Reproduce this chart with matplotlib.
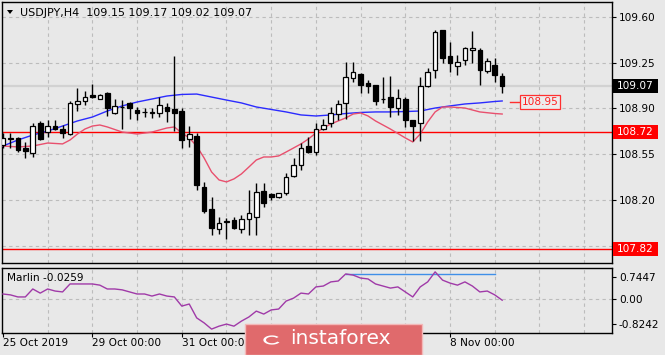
import matplotlib
matplotlib.use("Agg")
import matplotlib.pyplot as plt
import matplotlib.transforms as mtransforms
from matplotlib.patches import Rectangle, Wedge
import numpy as np

# ---------------- data ----------------
opens = [108.62, 108.665, 108.67, 108.60, 108.56, 108.79, 108.72, 108.765, 108.74, 108.705,
         108.935, 108.955, 109.00, 108.975, 109.02, 108.865, 108.91, 108.94, 108.89, 108.87,
         108.865, 108.865, 108.91, 108.895, 108.88, 108.665, 108.69, 108.30, 108.13, 107.98,
         108.03, 108.045, 107.98, 108.05, 108.07, 108.27, 108.245, 108.22, 108.255, 108.385,
         108.47, 108.61, 108.565, 108.745, 108.79, 108.855, 108.94, 109.135, 109.165, 109.095,
         109.08, 108.975, 108.99, 108.90, 108.97, 108.81, 108.79, 109.07, 109.195, 109.50,
         109.30, 109.225, 109.27, 109.35, 109.35, 109.19, 109.235, 109.15]
highs = [108.71, 108.71, 108.68, 108.64, 108.79, 108.80, 108.81, 108.81, 108.77, 108.96,
         109.055, 109.03, 109.085, 109.01, 109.025, 108.97, 108.965, 108.95, 108.91, 108.905,
         108.905, 108.99, 108.94, 109.30, 108.90, 108.765, 108.71, 108.34, 108.22, 108.07,
         108.06, 108.07, 108.085, 108.275, 108.33, 108.33, 108.255, 108.255, 108.405, 108.52,
         108.635, 108.68, 108.79, 108.82, 108.91, 108.965, 109.255, 109.255, 109.17, 109.12,
         109.08, 109.14, 109.15, 109.05, 108.99, 108.81, 109.14, 109.21, 109.50, 109.50,
         109.41, 109.31, 109.37, 109.49, 109.365, 109.285, 109.285, 109.17]
lows = [108.60, 108.60, 108.565, 108.52, 108.53, 108.66, 108.68, 108.735, 108.67, 108.70,
        108.88, 108.925, 108.98, 108.97, 108.84, 108.86, 108.74, 108.82, 108.81, 108.835,
        108.83, 108.835, 108.795, 108.73, 108.60, 108.605, 108.275, 108.10, 107.93, 107.94,
        107.90, 107.975, 107.945, 107.93, 107.93, 108.145, 108.20, 108.215, 108.24, 108.375,
        108.43, 108.56, 108.545, 108.735, 108.76, 108.81, 108.82, 109.10, 109.02, 109.02,
        108.925, 108.94, 108.835, 108.85, 108.76, 108.65, 108.65, 109.065, 109.135, 109.25,
        109.18, 109.155, 109.23, 109.25, 109.08, 109.17, 109.10, 109.02]
closes = [108.67, 108.67, 108.58, 108.575, 108.765, 108.665, 108.765, 108.745, 108.71, 108.94,
          108.96, 108.99, 108.985, 109.00, 108.90, 108.92, 108.912, 108.905, 108.865, 108.875,
          108.87, 108.925, 108.88, 108.865, 108.66, 108.705, 108.315, 108.115, 107.985, 108.025,
          108.035, 107.985, 108.05, 108.10, 108.26, 108.175, 108.225, 108.25, 108.375, 108.47,
          108.60, 108.565, 108.74, 108.77, 108.865, 108.935, 109.14, 109.18, 109.08, 109.075,
          108.955, 108.97, 108.91, 108.98, 108.81, 108.765, 109.07, 109.18, 109.485, 109.285,
          109.25, 109.255, 109.36, 109.365, 109.195, 109.26, 109.155, 109.07]

slow_ma_idx = [0, 2, 4, 6, 8, 10, 12, 14, 16, 18, 20, 22, 24, 26, 28, 30, 32, 34, 36, 38,
               40, 42, 44, 46, 48, 50, 52, 54, 56, 58, 60, 62, 64, 66, 67]
slow_ma = [108.612, 108.658, 108.696, 108.727, 108.765, 108.804, 108.834, 108.880, 108.919,
           108.949, 108.972, 108.995, 109.007, 109.010, 108.987, 108.964, 108.942, 108.911,
           108.892, 108.873, 108.850, 108.842, 108.850, 108.861, 108.869, 108.873, 108.873,
           108.876, 108.880, 108.903, 108.919, 108.934, 108.942, 108.953, 108.957]

fast_ma_idx = [0, 2, 4, 6, 8, 9, 10, 11, 12, 13, 14, 16, 18, 20, 22, 23, 24, 25, 26, 27, 28,
               29, 30, 31, 32, 33, 34, 35, 36, 37, 38, 39, 40, 41, 42, 43, 44, 45, 46, 47, 48,
               49, 50, 52, 54, 55, 56, 57, 58, 59, 60, 62, 64, 66, 67]
fast_ma = [108.612, 108.605, 108.612, 108.635, 108.628, 108.658, 108.704, 108.742, 108.765,
           108.773, 108.758, 108.719, 108.704, 108.719, 108.750, 108.758, 108.712, 108.674,
           108.612, 108.520, 108.413, 108.352, 108.337, 108.360, 108.398, 108.451, 108.505,
           108.528, 108.528, 108.536, 108.566, 108.597, 108.628, 108.666, 108.712, 108.750,
           108.781, 108.804, 108.827, 108.857, 108.865, 108.842, 108.804, 108.742, 108.674,
           108.643, 108.704, 108.796, 108.873, 108.911, 108.911, 108.903, 108.873, 108.861,
           108.857]

marlin = [0.18, 0.15, 0.08, 0.08, 0.35, 0.21, 0.35, 0.28, 0.25, 0.52,
          0.52, 0.52, 0.52, 0.48, 0.35, 0.35, 0.32, 0.25, 0.18, 0.18,
          0.11, 0.18, 0.11, 0.08, -0.23, -0.16, -0.63, -0.80, -1.01, -0.91,
          -0.84, -0.91, -0.74, -0.60, -0.40, -0.50, -0.36, -0.33, -0.06, 0.04,
          0.21, 0.18, 0.42, 0.45, 0.59, 0.62, 0.86, 0.82, 0.72, 0.69,
          0.52, 0.45, 0.38, 0.42, 0.25, 0.08, 0.42, 0.59, 0.93, 0.65,
          0.55, 0.48, 0.59, 0.45, 0.25, 0.28, 0.15, -0.03]
marlin_level = 0.85
marlin_level_span = [46, 66]

levels = [108.72, 107.82]
current_price = 109.07
ma_label_value = 108.95

price_ticks = [109.60, 109.25, 108.90, 108.55, 108.20, 107.85]
marlin_ticks = [0.7447, 0.0, -0.8242]
marlin_tick_labels = ["0.7447", "0.00", "-0.8242"]
time_tick_idx = [0, 12, 24, 60]
time_tick_labels = ["25 Oct 2019", "29 Oct 00:00", "31 Oct 00:00", "8 Nov 00:00"]
title_text = "USDJPY,H4  109.15 109.17 109.02 109.07"
marlin_text = "Marlin -0.0259"

# ---------------- figure ----------------
W, H = 665, 355
BG = "#e8e8e8"
plt.rcParams["font.family"] = ["DejaVu Sans"]
fig = plt.figure(figsize=(W / 100, H / 100), dpi=100, facecolor=BG)

def fx(px):
    return px / W

def fy(py):
    return 1 - py / H

ax = fig.add_axes([fx(2), fy(263), fx(610), (263 - 2) / H])
ax2 = fig.add_axes([fx(2), fy(333), fx(610), (333 - 268) / H], sharex=ax)

for a in (ax, ax2):
    a.set_facecolor(BG)
    for s in a.spines.values():
        s.set_color("black")
        s.set_linewidth(1.0)

n = len(opens)
x = np.arange(n)
ax.set_xlim(-0.13, 81.74)
ax.set_ylim(107.716, 109.715)
ax2.set_ylim(-1.142, 1.061)

# grid
grid_x = np.arange(6, 82, 6)
for a in (ax, ax2):
    for gx in grid_x:
        a.axvline(gx, color="#bcbcbc", lw=0.8, ls=(0, (3, 3)), zorder=0)
for p in price_ticks:
    ax.axhline(p, color="#bcbcbc", lw=0.8, ls=(0, (3, 3)), zorder=0)
ax2.axhline(0.0, color="#bcbcbc", lw=0.8, ls=(0, (3, 3)), zorder=0)

# current price line
ax.axhline(current_price, color="#d2d2d2", lw=1.6, zorder=0.5)

# levels
for lv in levels:
    ax.axhline(lv, color="#ff0000", lw=1.0, zorder=2)

# moving averages
ax.plot(slow_ma_idx, slow_ma, color="#2b2bff", lw=1.0, zorder=3)
ax.plot(fast_ma_idx, fast_ma, color="#e8506e", lw=1.0, zorder=3)

# candles
o = np.array(opens); c = np.array(closes)
ax.vlines(x, lows, highs, color="black", lw=1.0, zorder=4)
bottoms = np.minimum(o, c)
heights = np.maximum(np.abs(c - o), 0.004)
faces = ["white" if cc >= oo else "black" for oo, cc in zip(o, c)]
ax.bar(x, heights, bottom=bottoms, width=0.62, color=faces, edgecolor="black",
       linewidth=0.9, zorder=5)

# MA value label inside chart
last = n - 1
ax.plot([last + 1.0, last + 2.3], [ma_label_value, ma_label_value], color="#ff3030", lw=1.0, zorder=6)
ax.text(last + 2.6, ma_label_value, f"{ma_label_value:.2f}", color="#ff2020", fontsize=7.6,
        va="center", ha="left", zorder=7,
        bbox=dict(boxstyle="square,pad=0.18", fc="#ececec", ec="#ff3030", lw=0.9))

# y axis right
ax.yaxis.tick_right()
ax.set_yticks(price_ticks)
ax.set_yticklabels([f"{p:.2f}" for p in price_ticks])
ax.tick_params(axis="y", length=3, pad=2, labelsize=7.6, colors="black", width=0.8)
ax.tick_params(axis="x", bottom=False, labelbottom=False)

ax2.yaxis.tick_right()
ax2.set_yticks(marlin_ticks)
ax2.set_yticklabels(marlin_tick_labels)
ax2.tick_params(axis="y", length=3, pad=2, labelsize=7.6, colors="black", width=0.8)
ax2.set_xticks(time_tick_idx)
ax2.set_xticklabels(time_tick_labels, ha="left")
ax2.tick_params(axis="x", length=3, pad=0.8, labelsize=7.6, direction="out", width=0.8)

# price boxes on the axis
tr = mtransforms.blended_transform_factory(fig.transFigure, ax.transData)
box_h = 14 / 130.6
for val, fc in [(current_price, "black"), (levels[0], "#ff0000"), (levels[1], "#ff0000")]:
    r = Rectangle((fx(613), val - box_h / 2), fx(45), box_h, transform=tr, fc=fc, ec="none",
                  clip_on=False, zorder=10)
    fig.add_artist(r)
    fig.text(fx(617), val, f"{val:.2f}", transform=tr, color="white", fontsize=7.6,
             va="center", ha="left", zorder=11)

# marlin indicator
ax2.plot(x, marlin, color="#a03aa8", lw=1.0, zorder=3)
ax2.plot(marlin_level_span, [marlin_level, marlin_level], color="#3f8fe8", lw=1.0, zorder=2)

# texts
fig.text(fx(20), fy(13), title_text, fontsize=8, va="center", ha="left", color="black")
tri = plt.Polygon([[fx(7), fy(10)], [fx(13), fy(10)], [fx(10), fy(14)]], closed=True,
                  transform=fig.transFigure, fc="black", ec="none")
fig.add_artist(tri)
fig.text(fx(7), fy(278), marlin_text, fontsize=7.6, va="center", ha="left", color="black")

# watermark
wm = Rectangle((fx(245), 0), fx(422 - 245), (355 - 324) / H, transform=fig.transFigure,
               fc="#e06a6c", ec="#f3b8b8", lw=1.0, zorder=20)
fig.add_artist(wm)
logo = Wedge((fx(272), fy(340)), 0.013, 40, 330, width=0.004, transform=fig.transFigure,
             fc="white", ec="none", zorder=21)
fig.add_artist(logo)
fig.text(fx(290), fy(339), "instaforex", fontsize=14.5, color="white", va="center",
         ha="left", zorder=22)

fig.savefig("out.png", dpi=100, facecolor=BG)
